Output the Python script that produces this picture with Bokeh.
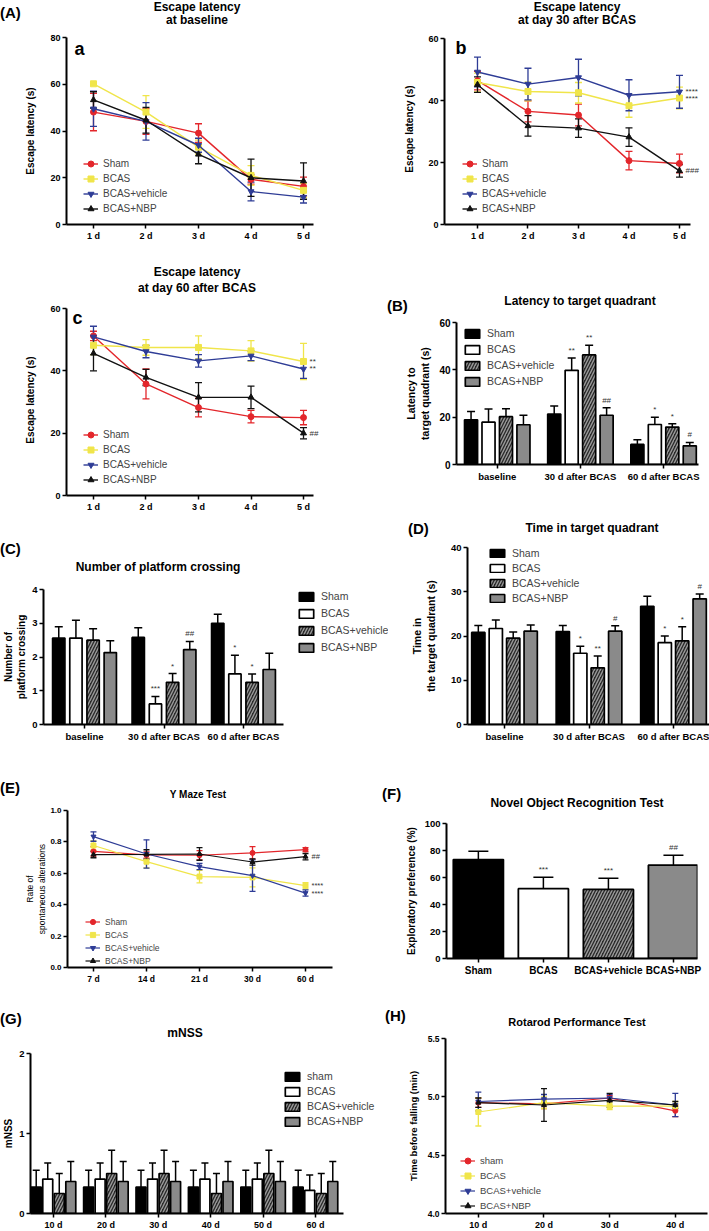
from bokeh.plotting import figure
from bokeh.models import (Range1d, FixedTicker, Label, Legend, LegendItem, Whisker,
                          TeeHead, ColumnDataSource, NumeralTickFormatter, Div)
from bokeh.layouts import column, row
from bokeh.embed import file_html
from bokeh.resources import INLINE

FONT = "Liberation Sans"

# ------------------------------------------------------------------ data
series_names = ["Sham", "BCAS", "BCAS+vehicle", "BCAS+NBP"]
series_names_lc = ["sham", "BCAS", "BCAS+vehicle", "BCAS+NBP"]
days = ["1 d", "2 d", "3 d", "4 d", "5 d"]
periods = ["baseline", "30 d after BCAS", "60 d after BCAS"]
ymaze_days = ["7 d", "14 d", "21 d", "30 d", "60 d"]
nor_groups = ["Sham", "BCAS", "BCAS+vehicle", "BCAS+NBP"]
mnss_days = ["10 d", "20 d", "30 d", "40 d", "50 d", "60 d"]
rotarod_days = ["10 d", "20 d", "30 d", "40 d"]

# (A)a escape latency at baseline
a_sham = [48.1, 44.1, 39.1, 19.3, 16.3]
a_sham_err = [8.0, 5.5, 4.0, 2.0, 4.0]
a_bcas = [60.2, 48.1, 33.1, 21.0, 14.6]
a_bcas_err = [0.6, 7.0, 3.0, 4.2, 3.0]
a_veh = [49.5, 44.1, 33.9, 14.1, 11.7]
a_veh_err = [7.5, 8.0, 3.0, 4.0, 2.5]
a_nbp = [53.3, 44.6, 30.0, 20.0, 18.6]
a_nbp_err = [3.5, 5.5, 4.0, 8.0, 7.8]

# (A)b escape latency at day 30
b_sham = [46.4, 36.5, 35.3, 20.6, 19.7]
b_sham_err = [3.0, 3.4, 3.5, 3.0, 3.0]
b_bcas = [45.8, 42.9, 42.5, 38.3, 40.8]
b_bcas_err = [3.0, 3.0, 3.3, 3.7, 3.5]
b_veh = [49.2, 45.3, 47.4, 41.7, 42.8]
b_veh_err = [4.8, 5.1, 5.9, 5.0, 5.3]
b_nbp = [45.1, 31.8, 31.1, 28.2, 17.3]
b_nbp_err = [2.5, 3.3, 3.0, 3.0, 2.0]
b_sig = ["", "****", "****", "###"]

# (A)c escape latency at day 60
c_sham = [51.2, 35.8, 28.2, 25.3, 25.0]
c_sham_err = [1.5, 4.8, 3.0, 2.0, 2.3]
c_bcas = [48.2, 47.5, 47.5, 46.4, 43.0]
c_bcas_err = [3.0, 2.5, 3.7, 3.3, 5.8]
c_veh = [50.9, 46.2, 43.2, 44.8, 40.6]
c_veh_err = [3.4, 2.0, 2.0, 1.5, 3.0]
c_nbp = [45.6, 37.9, 31.5, 31.5, 20.0]
c_nbp_err = [5.6, 2.6, 4.7, 3.6, 1.8]
c_sig = ["", "**", "**", "##"]

# (B) latency to target quadrant
B_sham = [18.9, 21.3, 8.5]
B_sham_err = [3.5, 3.4, 2.0]
B_bcas = [17.9, 39.8, 16.9]
B_bcas_err = [5.5, 5.2, 3.1]
B_veh = [20.2, 46.3, 15.8]
B_veh_err = [3.4, 4.1, 1.4]
B_nbp = [16.8, 20.8, 7.9]
B_nbp_err = [4.0, 3.2, 1.4]
B_sig = [["", "", ""], ["", "**", "*"], ["", "**", "*"], ["", "##", "#"]]

# (C) number of platform crossing
C_sham = [2.56, 2.58, 3.00]
C_sham_err = [0.34, 0.29, 0.27]
C_bcas = [2.56, 0.61, 1.50]
C_bcas_err = [0.53, 0.22, 0.55]
C_veh = [2.50, 1.25, 1.25]
C_veh_err = [0.34, 0.26, 0.25]
C_nbp = [2.13, 2.22, 1.63]
C_nbp_err = [0.35, 0.24, 0.48]
C_sig = [["", "", ""], ["", "***", "*"], ["", "*", "*"], ["", "##", ""]]

# (D) time in target quadrant
D_sham = [20.8, 21.0, 26.7]
D_sham_err = [1.6, 1.4, 2.3]
D_bcas = [21.7, 16.1, 18.5]
D_bcas_err = [1.9, 1.6, 1.5]
D_veh = [19.5, 12.8, 18.9]
D_veh_err = [1.4, 2.7, 3.2]
D_nbp = [21.1, 21.1, 28.4]
D_nbp_err = [1.4, 1.2, 1.1]
D_sig = [["", "", ""], ["", "*", "*"], ["", "**", "*"], ["", "#", "#"]]

# (E) Y maze
E_sham = [0.740, 0.717, 0.715, 0.730, 0.751]
E_sham_err = [0.03, 0.02, 0.03, 0.04, 0.012]
E_bcas = [0.777, 0.674, 0.579, 0.574, 0.521]
E_bcas_err = [0.03, 0.04, 0.04, 0.06, 0.02]
E_veh = [0.834, 0.723, 0.643, 0.585, 0.474]
E_veh_err = [0.03, 0.09, 0.02, 0.10, 0.02]
E_nbp = [0.719, 0.720, 0.723, 0.672, 0.706]
E_nbp_err = [0.02, 0.03, 0.04, 0.02, 0.02]
E_sig = ["", "****", "****", "##"]

# (F) novel object recognition
F_vals = [73.3, 51.7, 51.2, 69.1]
F_err = [6.2, 8.4, 8.2, 7.4]
F_sig = ["", "***", "***", "##"]

# (G) mNSS
G_sham = [0.33, 0.33, 0.33, 0.33, 0.33, 0.33]
G_sham_err = [0.21, 0.21, 0.21, 0.21, 0.21, 0.21]
G_bcas = [0.43, 0.43, 0.43, 0.43, 0.43, 0.29]
G_bcas_err = [0.20, 0.20, 0.20, 0.20, 0.20, 0.19]
G_veh = [0.25, 0.50, 0.50, 0.25, 0.50, 0.25]
G_veh_err = [0.25, 0.29, 0.29, 0.25, 0.29, 0.25]
G_nbp = [0.40, 0.40, 0.40, 0.40, 0.40, 0.40]
G_nbp_err = [0.25, 0.25, 0.25, 0.25, 0.25, 0.25]

# (H) rotarod
H_sham = [4.95, 4.94, 4.99, 4.88]
H_sham_err = [0.04, 0.04, 0.02, 0.05]
H_bcas = [4.87, 4.95, 4.92, 4.92]
H_bcas_err = [0.12, 0.05, 0.03, 0.04]
H_veh = [4.96, 4.98, 4.99, 4.93]
H_veh_err = [0.08, 0.04, 0.03, 0.10]
H_nbp = [4.95, 4.93, 4.97, 4.93]
H_nbp_err = [0.04, 0.14, 0.06, 0.03]

# ------------------------------------------------------------------ styles
LINE_COLORS = ["#e3262b", "#f0e54a", "#2e3c96", "#111111"]
MARKERS = ["circle", "square", "inverted_triangle", "triangle"]
BAR_STYLES = [
    dict(fill_color="black"),
    dict(fill_color="white"),
    dict(fill_color="#2a2a2a", hatch_pattern="/", hatch_color="#9a9a9a",
         hatch_scale=6, hatch_weight=1.4),
    dict(fill_color="#8a8a8a"),
]


def strip(w, h, items):
    """Heading strip above a panel: items = (text, x, y, size_px, anchor)."""
    spans = []
    for text, x, y, size, anchor in items:
        tx = "-50%" if anchor == "center" else "0"
        spans.append(
            f'<span style="position:absolute;left:{x}px;top:{y}px;'
            f'transform:translate({tx},-50%);font-family:\'{FONT}\';'
            f'font-size:{size}px;font-weight:bold;white-space:nowrap;'
            f'line-height:1;color:black;">{text}</span>')
    html = (f'<div style="position:relative;width:{w}px;height:{h}px;margin:0;padding:0;">'
            + "".join(spans) + "</div>")
    return Div(text=html, width=w, height=h, margin=0)


def make_fig(fw, fh, left, top, right, bottom, xr, yr, yticks, xlabels,
             ytick_fs="9px", xtick_fs="9px", ylabel="", ylabel_fs="10px",
             ylabel_std=5, ylabel_bold=True, yfmt=None, xbounds=None, ytop_ext=0):
    # ytop_ext: extra pixels of plot area above the top tick (axis line stops at the tick)
    y_end = yr[1] + ytop_ext * (yr[1] - yr[0]) / fh
    p = figure(frame_width=fw, frame_height=fh + ytop_ext, min_border_left=left,
               min_border_right=right, min_border_top=top - ytop_ext,
               min_border_bottom=bottom,
               x_range=Range1d(*xr), y_range=Range1d(yr[0], y_end),
               output_backend="svg", toolbar_location=None)
    p.outline_line_color = None
    p.xgrid.visible = False
    p.ygrid.visible = False
    p.background_fill_color = "white"
    p.border_fill_color = "white"
    xa = p.xaxis[0]
    ya = p.yaxis[0]
    ya.ticker = FixedTicker(ticks=yticks)
    ya.bounds = (yr[0], yr[1])
    xa.ticker = FixedTicker(ticks=list(range(len(xlabels))))
    xa.major_label_overrides = {i: s for i, s in enumerate(xlabels)}
    if xbounds is not None:
        xa.bounds = xbounds
    if yfmt:
        ya.formatter = NumeralTickFormatter(format=yfmt)
    for ax, fs in ((xa, xtick_fs), (ya, ytick_fs)):
        ax.axis_line_width = 2
        ax.axis_line_color = "black"
        ax.major_tick_line_width = 1.5
        ax.major_tick_line_color = "black"
        ax.major_tick_in = 0
        ax.major_tick_out = 4
        ax.minor_tick_line_color = None
        ax.major_label_text_font = FONT
        ax.major_label_text_font_style = "bold"
        ax.major_label_text_font_size = fs
        ax.major_label_text_color = "black"
        ax.major_label_standoff = 2
    ya.axis_label = ylabel
    ya.axis_label_text_font = FONT
    ya.axis_label_text_font_style = "bold" if ylabel_bold else "normal"
    ya.axis_label_text_font_size = ylabel_fs
    ya.axis_label_text_color = "black"
    ya.axis_label_standoff = ylabel_std
    return p


def txt(p, x, y, text, size, bold=True, align="center", baseline="middle",
        units="screen", xo=0, yo=0, color="black"):
    p.add_layout(Label(x=x, y=y, x_units=units, y_units=units, text=text,
                       text_font=FONT, text_font_size=size,
                       text_font_style="bold" if bold else "normal",
                       text_align=align, text_baseline=baseline,
                       x_offset=xo, y_offset=yo, text_color=color))


def line_series(p, values, errs, names, loc, legend_fs="10px", pitch=15,
                msize=6, head=7, lw=1.4, sig=None, sig_fs="8px"):
    items = []
    x = list(range(len(values[0])))
    for k, (vals, err, col, mk, nm) in enumerate(zip(values, errs, LINE_COLORS, MARKERS, names)):
        src = ColumnDataSource(dict(x=x, y=vals,
                                    lo=[v - e for v, e in zip(vals, err)],
                                    hi=[v + e for v, e in zip(vals, err)]))
        p.add_layout(Whisker(source=src, base="x", upper="hi", lower="lo",
                             line_color=col, line_width=1.3,
                             upper_head=TeeHead(size=head, line_color=col, line_width=1.3),
                             lower_head=TeeHead(size=head, line_color=col, line_width=1.3)))
        lr = p.line("x", "y", source=src, line_color=col, line_width=lw)
        sr = p.scatter("x", "y", source=src, marker=mk, size=msize,
                       fill_color=col, line_color=col)
        items.append(LegendItem(label=nm, renderers=[lr, sr]))
        if sig and sig[k]:
            txt(p, x[-1], vals[-1], sig[k], sig_fs, bold=False, align="left",
                units="data", xo=6, color="#333333")
    lg = Legend(items=items, location=loc, background_fill_alpha=0,
                border_line_alpha=0, padding=0, margin=0, spacing=0,
                glyph_width=15, glyph_height=pitch, label_height=pitch,
                label_standoff=5, label_text_font=FONT,
                label_text_font_size=legend_fs)
    p.add_layout(lg)


def bar_series(p, values, errs, names, offsets, width, loc, legend_fs="10.5px",
               sig=None, sig_fs="8px", head=8, gh=11, gsp=5):
    items = []
    for k, (vals, err, sty, nm) in enumerate(zip(values, errs, BAR_STYLES, names)):
        xs = [g + offsets[k] for g in range(len(vals))]
        src = ColumnDataSource(dict(x=xs, top=vals,
                                    hi=[v + e for v, e in zip(vals, err)]))
        p.add_layout(Whisker(source=src, base="x", upper="hi", lower="top",
                             line_color="black", line_width=1.5, lower_head=None,
                             upper_head=TeeHead(size=head, line_color="black", line_width=1.5)))
        r = p.vbar(x="x", top="top", width=width, source=src,
                   line_color="black", line_width=1.7, **sty)
        items.append(LegendItem(label=nm, renderers=[r]))
        if sig:
            for g, s in enumerate(sig[k]):
                if s:
                    txt(p, xs[g], vals[g] + err[g], s, sig_fs, bold=False,
                        baseline="bottom", units="data", yo=3, color="#333333")
    lg = Legend(items=items, location=loc, background_fill_alpha=0,
                border_line_alpha=0, padding=0, margin=0, spacing=gsp,
                glyph_width=18, glyph_height=gh, label_height=gh,
                label_standoff=6, label_text_font=FONT,
                label_text_font_size=legend_fs)
    p.add_layout(lg)


# ------------------------------------------------------------------ row 1
sa = strip(350, 31, [("(A)", 0, 12, 15, "left"),
                     ("Escape latency", 197, 7, 12, "center"),
                     ("at baseline", 197, 20, 12, "center")])
pa = make_fig(247, 187, 66, 6, 37, 38, (-0.514, 4.19), (0, 80), [0, 20, 40, 60, 80], days,
              ylabel="Escape latency (s)", ylabel_std=11)
line_series(pa, [a_sham, a_bcas, a_veh, a_nbp], [a_sham_err, a_bcas_err, a_veh_err, a_nbp_err],
            series_names, (17, 8))
txt(pa, 8, 176, "a", "18px", align="left", baseline="alphabetic")

sb = strip(359, 32, [("Escape latency", 227, 7, 12, "center"),
                     ("at day 30 after BCAS", 227, 20, 12, "center")])
pb = make_fig(261, 186, 94, 6, 4, 38, (-0.653, 4.515), (0, 60), [0, 20, 40, 60], days,
              ylabel="Escape latency (s)", ylabel_std=10, xbounds=(-0.653, 4.218), ytop_ext=5)
line_series(pb, [b_sham, b_bcas, b_veh, b_nbp], [b_sham_err, b_bcas_err, b_veh_err, b_nbp_err],
            series_names, (18, 8), sig=b_sig)
txt(pb, 11, 177, "b", "18px", align="left", baseline="alphabetic")

# ------------------------------------------------------------------ row 2
sc = strip(350, 40, [("Escape latency", 197, 10, 12, "center"),
                     ("at day 60 after BCAS", 197, 26, 12, "center")])
pc = make_fig(264, 187, 66, 6, 20, 25, (-0.514, 4.514), (0, 60), [0, 20, 40, 60], days,
              ylabel="Escape latency (s)", ylabel_std=11, xbounds=(-0.514, 4.19), ytop_ext=4)
line_series(pc, [c_sham, c_bcas, c_veh, c_nbp], [c_sham_err, c_bcas_err, c_veh_err, c_nbp_err],
            series_names, (17, 8), sig=c_sig)
txt(pc, 6, 178, "c", "18px", align="left", baseline="alphabetic")

sB = strip(359, 52, [("(B)", 37, 43, 15, "left"),
                     ("Latency to target quadrant", 230, 39, 12, "center")])
pB = make_fig(242, 142, 106, 8, 11, 56, (-0.49, 2.42), (0, 60), [0, 20, 40, 60], periods,
              xtick_fs="9.5px", ytick_fs="10px", ylabel="Latency to\ntarget quadrant (s)",
              ylabel_fs="10.5px", ylabel_std=5)
bar_series(pB, [B_sham, B_bcas, B_veh, B_nbp], [B_sham_err, B_bcas_err, B_veh_err, B_nbp_err],
           series_names, [-0.315, -0.105, 0.105, 0.315], 0.157, (7, 77), sig=B_sig, gsp=4)

# ------------------------------------------------------------------ row 3
sC = strip(385, 61, [("(C)", 0, 28, 15, "left"),
                     ("Number of platform crossing", 158, 47, 12, "center")])
pC = make_fig(345, 135, 38, 8, 2, 48, (-0.516, 3.824), (0, 4), [0, 1, 2, 3, 4], periods,
              xtick_fs="9.5px", ytick_fs="9.5px", ylabel="Number of\nplatform crossing",
              ylabel_fs="10px", ylabel_std=2, xbounds=(-0.516, 2.503))
bar_series(pC, [C_sham, C_bcas, C_veh, C_nbp], [C_sham_err, C_bcas_err, C_veh_err, C_nbp_err],
           series_names, [-0.324, -0.108, 0.108, 0.324], 0.155, (254, 71), sig=C_sig)

sD = strip(324, 19, [("(D)", 18, 8, 15, "left"),
                     ("Time in target quadrant", 202, 8, 12, "center")])
pD = make_fig(243, 177, 77, 8, 4, 48, (-0.438, 2.438), (0, 40), [0, 10, 20, 30, 40], periods,
              xtick_fs="9.5px", ytick_fs="9.5px", ylabel="Time in\nthe target quadrant (s)",
              ylabel_fs="10.5px", ylabel_std=11)
bar_series(pD, [D_sham, D_bcas, D_veh, D_nbp], [D_sham_err, D_bcas_err, D_veh_err, D_nbp_err],
           series_names, [-0.31, -0.103, 0.103, 0.31], 0.157, (21, 120), sig=D_sig,
           gh=10, gsp=3)

# ------------------------------------------------------------------ row 4
sE = strip(350, 32, [("(E)", 0, 15, 15, "left"),
                     ("Y Maze Test", 198, 23, 10, "center")])
pE = make_fig(273, 157, 67, 6, 10, 38, (-0.49, 4.66), (0, 1.0),
              [0.0, 0.2, 0.4, 0.6, 0.8, 1.0], ymaze_days, ytick_fs="8px", xtick_fs="8.5px",
              ylabel="Rate of\nspontaneous alterations", ylabel_fs="8.5px",
              ylabel_std=0, ylabel_bold=False, yfmt="0.0", xbounds=(-0.49, 4.51))
line_series(pE, [E_sham, E_bcas, E_veh, E_nbp], [E_sham_err, E_bcas_err, E_veh_err, E_nbp_err],
            series_names, (18, 0), legend_fs="8.5px", pitch=13, msize=5, head=6,
            lw=1.2, sig=E_sig, sig_fs="7.5px")

sF = strip(359, 43, [("(F)", 32, 21, 15, "left"),
                     ("Novel Object Recognition Test", 227, 31, 12, "center")])
pF = make_fig(251, 135, 96, 8, 12, 47, (-0.49, 3.37), (0, 100), [0, 20, 40, 60, 80, 100],
              nor_groups, ytick_fs="9.5px", xtick_fs="10px",
              ylabel="Exploratory preference (%)", ylabel_fs="10px", ylabel_std=5)
srcF = ColumnDataSource(dict(x=list(range(len(F_vals))), top=F_vals,
                             hi=[v + e for v, e in zip(F_vals, F_err)]))
pF.add_layout(Whisker(source=srcF, base="x", upper="hi", lower="top", line_color="black",
                      line_width=1.5, lower_head=None,
                      upper_head=TeeHead(size=20, line_color="black", line_width=1.5)))
for k in range(len(F_vals)):
    srck = ColumnDataSource(dict(x=[k], top=[F_vals[k]]))
    pF.vbar(x="x", top="top", width=0.77, source=srck, line_color="black",
            line_width=1.8, **BAR_STYLES[k])
    if F_sig[k]:
        txt(pF, k, F_vals[k] + F_err[k], F_sig[k], "8px", bold=False, baseline="bottom",
            units="data", yo=3, color="#333333")

# ------------------------------------------------------------------ row 5
sG = strip(385, 42, [("(G)", 0, 13, 15, "left"),
                     ("mNSS", 185, 28, 12, "center")])
pG = make_fig(353, 160, 30, 6, 2, 18, (-0.439, 6.298), (0, 2), [0, 1, 2], mnss_days,
              ytick_fs="9.5px", xtick_fs="9px", ylabel="mNSS", ylabel_fs="10px",
              ylabel_std=2, xbounds=(-0.439, 5.534))
bar_series(pG, [G_sham, G_bcas, G_veh, G_nbp], [G_sham_err, G_bcas_err, G_veh_err, G_nbp_err],
           series_names_lc, [-0.33, -0.11, 0.11, 0.33], 0.19, (253, 86), head=7, gsp=3)

sH = strip(324, 27, [("(H)", 0, 10, 15, "left"),
                     ("Rotarod Performance Test", 192, 17, 11, "center")])
pH = make_fig(262, 175, 60, 6, 2, 18, (-0.5, 3.49), (4.0, 5.5), [4.0, 4.5, 5.0, 5.5],
              rotarod_days, ytick_fs="8.5px", xtick_fs="9px",
              ylabel="Time before falling (min)", ylabel_fs="9.5px", ylabel_std=6, yfmt="0.0")
line_series(pH, [H_sham, H_bcas, H_veh, H_nbp], [H_sham_err, H_bcas_err, H_veh_err, H_nbp_err],
            series_names_lc, (15, 0), legend_fs="9.5px", pitch=15, msize=5, head=6, lw=1.2)

layout = column(
    row(column(sa, pa), column(sb, pb)),
    row(column(sc, pc), column(sB, pB)),
    row(column(sC, pC), column(sD, pD)),
    row(column(sE, pE), column(sF, pF)),
    row(column(sG, pG), column(sH, pH)),
)

open("out.html", "w").write(file_html(layout, INLINE))
